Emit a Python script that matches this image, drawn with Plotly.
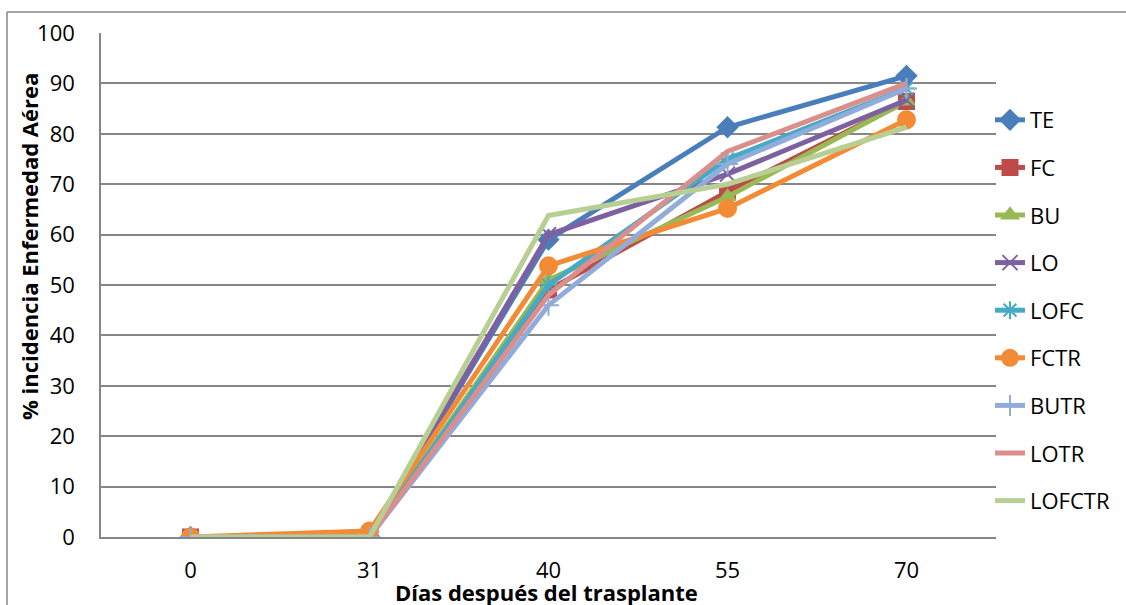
import plotly.graph_objects as go

days = ["0", "31", "40", "55", "70"]
series_names = ["TE", "FC", "BU", "LO", "LOFC", "FCTR", "BUTR", "LOTR", "LOFCTR"]
TE = [0, 0, 59.0, 81.3, 91.5]
FC = [0, 0, 49.0, 68.5, 86.4]
BU = [0, 0, 51.0, 67.5, 86.5]
LO = [0, 0, 60.0, 72.0, 86.7]
LOFC = [0, 0, 50.0, 75.0, 89.0]
FCTR = [0, 1.2, 53.8, 65.2, 82.8]
BUTR = [0, 0, 46.0, 74.0, 89.0]
LOTR = [0, 0, 48.0, 76.5, 90.0]
LOFCTR = [0, 0, 63.8, 70.0, 81.3]
y_ticks = [0, 10, 20, 30, 40, 50, 60, 70, 80, 90, 100]

values = [TE, FC, BU, LO, LOFC, FCTR, BUTR, LOTR, LOFCTR]
colors = ["#4A7EBB", "#BE4B48", "#98B954", "#7D60A0", "#46AAC5", "#F38A35",
          "#90ACDA", "#DA8F8D", "#B7CF92"]
symbols = ["diamond", "square", "triangle-up", "x-thin-open", "asterisk-open",
           "circle", "cross-thin-open", None, None]
sizes = [15, 15, 14, 15, 15, 17, 15, 0, 0]

W, H = 1126, 605
FONT = "Open Sans"

fig = go.Figure()
for i, (name, vals) in enumerate(zip(series_names, values)):
    mk = dict(color=colors[i], size=sizes[i], line=dict(color=colors[i], width=2))
    mode = "lines+markers" if symbols[i] else "lines"
    if symbols[i]:
        mk["symbol"] = symbols[i]
    fig.add_trace(go.Scatter(
        x=days, y=vals, name=name, mode=mode,
        line=dict(color=colors[i], width=5),
        marker=mk, legendgroup=name,
    ))

x0, x1 = 101 / W, 996 / W
y0, y1 = (H - 537) / H, (H - 33) / H

fig.update_layout(
    width=W, height=H,
    margin=dict(l=0, r=0, t=0, b=0),
    paper_bgcolor="white", plot_bgcolor="white",
    font=dict(family=FONT, size=22, color="black"),
    xaxis=dict(
        type="category", domain=[x0, x1], range=[-0.5, 4.5], automargin=False,
        showgrid=False, showline=True, linecolor="#868686", linewidth=1.5,
        ticks="", tickfont=dict(size=22), ticklabelstandoff=13,
    ),
    yaxis=dict(
        domain=[y0, y1], range=[0, 100], tickvals=y_ticks, automargin=False,
        showgrid=True, gridcolor="#868686", gridwidth=1.5,
        showline=True, linecolor="#868686", linewidth=1.5,
        zeroline=False, ticks="", tickfont=dict(size=22), ticklabelstandoff=20,
    ),
    legend=dict(
        x=990 / W, y=(H - 99) / H, xanchor="left", yanchor="top",
        font=dict(size=22), tracegroupgap=16, bgcolor="rgba(0,0,0,0)",
    ),
    showlegend=True,
    annotations=[
        dict(text="<b>Días después del trasplante</b>", x=546 / W, y=(H - 592) / H,
             xref="paper", yref="paper", showarrow=False, font=dict(size=22),
             xanchor="center", yanchor="middle"),
        dict(text="<b>% incidencia Enfermedad Aérea</b>", x=29 / W, y=(H - 247) / H,
             xref="paper", yref="paper", showarrow=False, font=dict(size=22),
             textangle=-90, xanchor="center", yanchor="middle"),
    ],
    shapes=[
        dict(type="line", xref="paper", yref="paper", x0=7 / W, x1=1.0,
             y0=(H - 12) / H, y1=(H - 12) / H, line=dict(color="#868686", width=1.5)),
        dict(type="line", xref="paper", yref="paper", x0=7 / W, x1=7 / W,
             y0=0, y1=(H - 12) / H, line=dict(color="#868686", width=1.5)),
    ],
)

fig.write_html("out.html")
